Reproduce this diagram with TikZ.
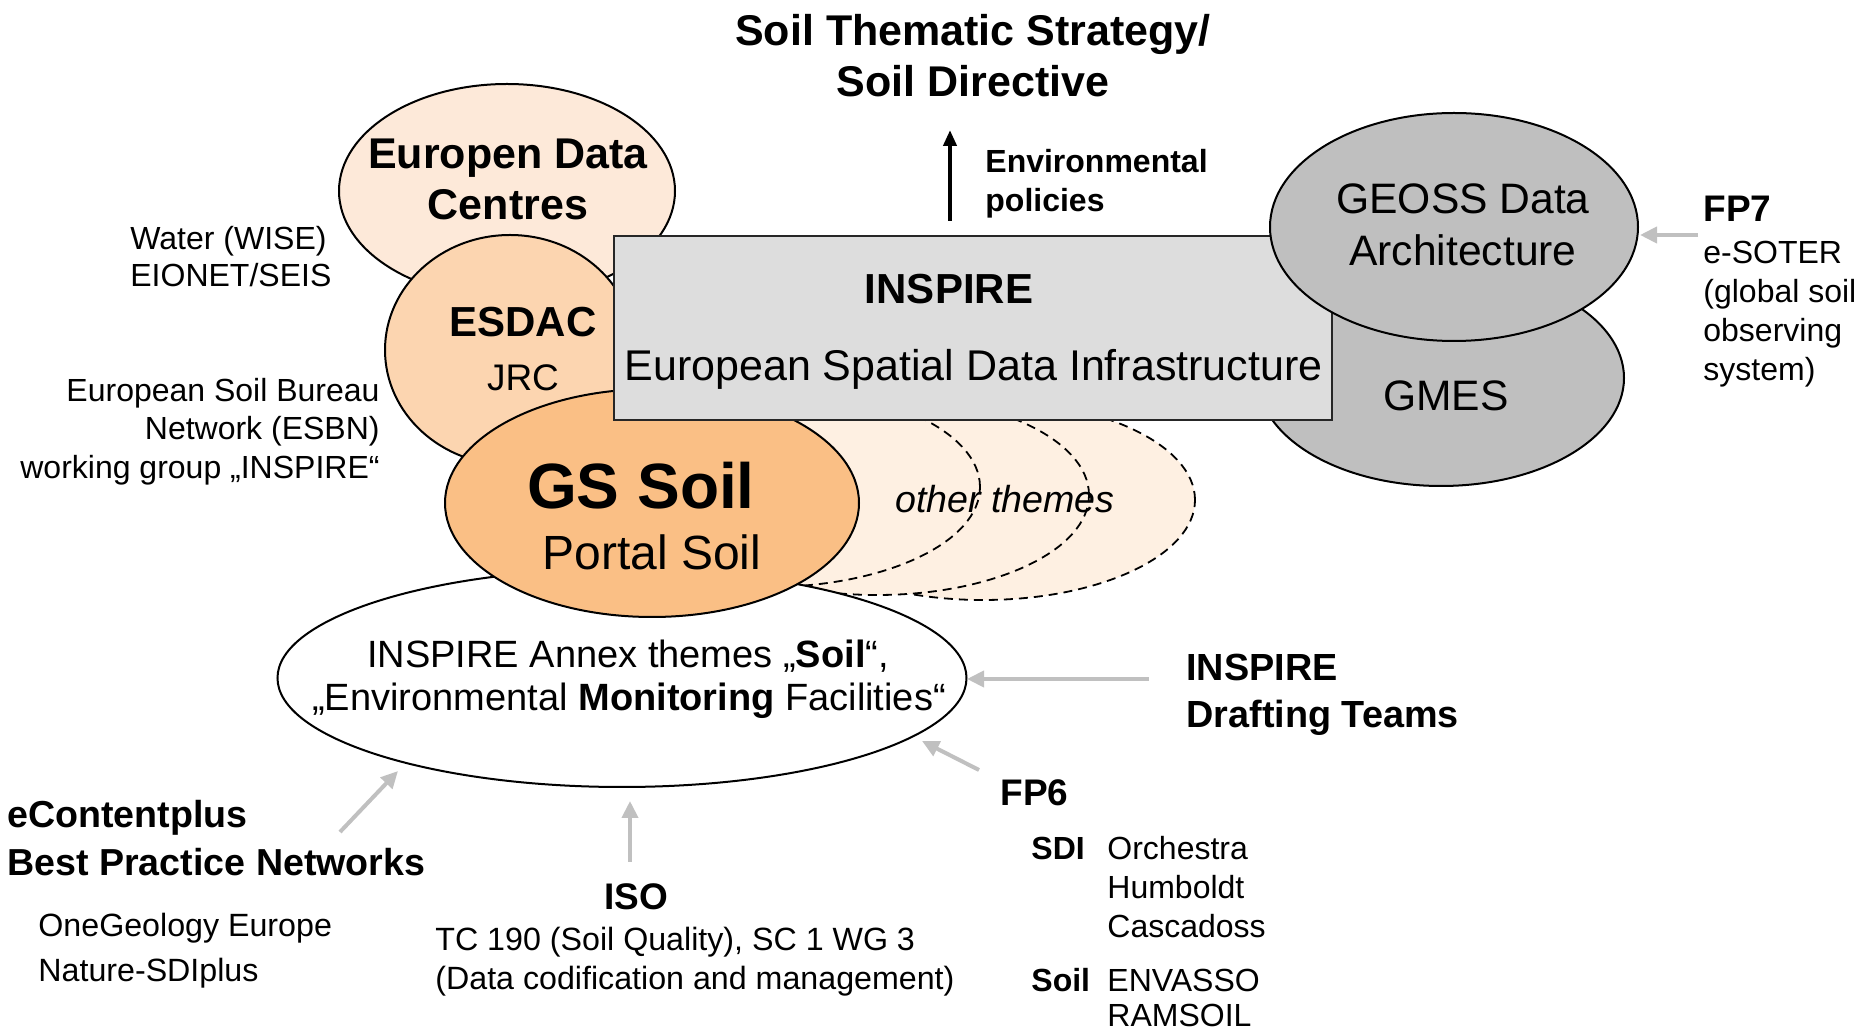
\documentclass[tikz,border=0pt]{standalone}
\usepackage{fontspec}
\setmainfont{Liberation Sans}
\usetikzlibrary{shapes.geometric,arrows.meta}
\definecolor{edcfill}{HTML}{FDE9D9}
\definecolor{esdacfill}{HTML}{FCD5B0}
\definecolor{gsfill}{HTML}{FABF85}
\definecolor{otherfill}{HTML}{FEF0E2}
\definecolor{rectfill}{HTML}{DDDDDD}
\definecolor{geossfill}{HTML}{BFBFBF}
\definecolor{arrowgray}{HTML}{C0C0C0}
\newcommand{\fsz}[1]{\fontsize{#1}{#1}\selectfont}
\begin{document}
\begin{tikzpicture}[x=0.5pt,y=-0.5pt,
  ell/.style={ellipse,draw=black,line width=1pt,inner sep=0pt},
  dashell/.style={ellipse,draw=black,line width=0.9pt,dash pattern=on 4.5pt off 3pt,fill=otherfill,inner sep=0pt},
  txt/.style={inner sep=0pt,text=black},
  garrow/.style={draw=arrowgray,line width=2pt,-{Triangle[length=8.5pt,width=8pt]}},
  barrow/.style={draw=black,line width=2pt,-{Triangle[length=8pt,width=6.5pt]}},
]
\useasboundingbox (0,0) rectangle (1876,1031);

% back shapes
\node[ell,fill=edcfill,minimum width=168pt,minimum height=107pt] (edc) at (507,191) {};
\node[ell,fill=esdacfill,minimum width=125pt,minimum height=115pt] (esdac) at (510,350) {};
\node[dashell,minimum width=212pt,minimum height=100pt] (oth3) at (983,500) {};
\node[dashell,minimum width=212pt,minimum height=100pt] (oth2) at (877,495) {};
\node[dashell,minimum width=212pt,minimum height=100pt] (oth1) at (768,487) {};
\node[ell,fill=white,minimum width=344.5pt,minimum height=109pt] (annex) at (622,678) {};
\node[ell,fill=gsfill,minimum width=207pt,minimum height=114pt] (gs) at (652,503) {};
\node[ell,fill=geossfill,minimum width=183pt,minimum height=108pt] (gmes) at (1441,378) {};
\node[draw=black!85,line width=1pt,fill=rectfill,minimum width=359pt,minimum height=92pt,inner sep=0pt] (inspire) at (973,328) {};
\node[ell,fill=geossfill,minimum width=184pt,minimum height=114pt] (geoss) at (1454,227) {};

% title
\node[txt,anchor=base,font=\fsz{21.5}\bfseries] (title1) at (973,46) {Soil Thematic Strategy/};
\node[txt,anchor=base,font=\fsz{21.5}\bfseries] (title2) at (973,97) {Soil Directive};

% environmental policies
\coordinate (envs) at (950,221);
\coordinate (envt) at (950,130);
\draw[barrow] (envs) -- (envt);
\node[txt,anchor=base west,font=\fsz{16}\bfseries] (env1) at (985,172.5) {Environmental};
\node[txt,anchor=base west,font=\fsz{16}\bfseries] (env2) at (985,211.5) {policies};

% ellipse texts
\node[txt,anchor=base,font=\fsz{21.5}\bfseries] (edc1) at (508,168.5) {Europen Data};
\node[txt,anchor=base,font=\fsz{21.5}\bfseries] (edc2) at (508,219.5) {Centres};
\node[txt,anchor=base,font=\fsz{21}\bfseries] (esdac1) at (523,336.5) {ESDAC};
\node[txt,anchor=base,font=\fsz{18.5}] (esdac2) at (523,390.5) {JRC};
\node[txt,anchor=base,font=\fsz{32}\bfseries] (gs1) at (641,508.5) {GS Soil};
\node[txt,anchor=base,font=\fsz{24}] (gs2) at (652,569.5) {Portal Soil};
\node[txt,anchor=base,font=\fsz{18.8}\itshape] (othtxt) at (1005,512.5) {other themes};
\node[txt,anchor=base,font=\fsz{21}\bfseries] (insp1) at (949,304) {INSPIRE};
\node[txt,anchor=base,font=\fsz{21.5}] (insp2) at (973.5,381) {European Spatial Data Infrastructure};
\node[txt,anchor=base,font=\fsz{21.3}] (geoss1) at (1463,213.5) {GEOSS Data};
\node[txt,anchor=base,font=\fsz{21.3}] (geoss2) at (1463,265.5) {Architecture};
\node[txt,anchor=base,font=\fsz{21.3}] (gmestxt) at (1446,410.5) {GMES};
\node[txt,anchor=base,font=\fsz{19}] (annex1) at (628,667.5) {INSPIRE Annex themes „\textbf{Soil}“,};
\node[txt,anchor=base,font=\fsz{19}] (annex2) at (629,710.5) {„Environmental \textbf{Monitoring} Facilities“};

% FP7
\node[txt,anchor=base west,font=\fsz{18.5}\bfseries] (fp7) at (1703,221.5) {FP7};
\node[txt,anchor=base west,font=\fsz{16}] (fp7a) at (1703,263.5) {e-SOTER};
\node[txt,anchor=base west,font=\fsz{16}] (fp7b) at (1703,302.5) {(global soil};
\node[txt,anchor=base west,font=\fsz{16}] (fp7c) at (1703,342) {observing};
\node[txt,anchor=base west,font=\fsz{16}] (fp7d) at (1703,381) {system)};
\coordinate (fp7s) at (1698,235);
\coordinate (fp7t) at (1640,235);
\draw[garrow] (fp7s) -- (fp7t);

% left texts
\node[txt,anchor=base west,font=\fsz{16}] (wise) at (130,249.5) {Water (WISE)};
\node[txt,anchor=base west,font=\fsz{16}] (eionet) at (130,287) {EIONET/SEIS};
\node[txt,anchor=base east,font=\fsz{16}] (esb1) at (380,401.5) {European Soil Bureau};
\node[txt,anchor=base east,font=\fsz{16}] (esb2) at (380,439.5) {Network (ESBN)};
\node[txt,anchor=base east,font=\fsz{16}] (esb3) at (380,478.5) {working group „INSPIRE“};

% Drafting teams
\node[txt,anchor=base west,font=\fsz{18.9}\bfseries] (dt1) at (1186,680.5) {INSPIRE};
\node[txt,anchor=base west,font=\fsz{18.9}\bfseries] (dt2) at (1186,727.5) {Drafting Teams};
\coordinate (dts) at (1149,679);
\coordinate (dtt) at (967,679);
\draw[garrow] (dts) -- (dtt);

% FP6
\node[txt,anchor=base west,font=\fsz{18.5}\bfseries] (fp6) at (1000,806) {FP6};
\coordinate (fp6s) at (979,770);
\coordinate (fp6t) at (922,741);
\draw[garrow] (fp6s) -- (fp6t);
\node[txt,anchor=base west,font=\fsz{16}\bfseries] (sdi) at (1031,859.5) {SDI};
\node[txt,anchor=base west,font=\fsz{16}] (orch) at (1107,859.5) {Orchestra};
\node[txt,anchor=base west,font=\fsz{16}] (humb) at (1107,899) {Humboldt};
\node[txt,anchor=base west,font=\fsz{16}] (casc) at (1107,937.5) {Cascadoss};
\node[txt,anchor=base west,font=\fsz{16}\bfseries] (soillab) at (1031,991.5) {Soil};
\node[txt,anchor=base west,font=\fsz{16}] (envasso) at (1107,991.5) {ENVASSO};
\node[txt,anchor=base west,font=\fsz{16}] (ramsoil) at (1107,1026.5) {RAMSOIL};

% eContentplus
\node[txt,anchor=base west,font=\fsz{18.8}\bfseries] (ecp1) at (7,827.5) {eContentplus};
\node[txt,anchor=base west,font=\fsz{18.8}\bfseries] (ecp2) at (7,875.5) {Best Practice Networks};
\node[txt,anchor=base west,font=\fsz{16.1}] (oneg) at (38,936.5) {OneGeology Europe};
\node[txt,anchor=base west,font=\fsz{16.1}] (nat) at (38,981.5) {Nature-SDIplus};
\coordinate (ecps) at (340,832);
\coordinate (ecpt) at (398,771);
\draw[garrow] (ecps) -- (ecpt);

% ISO
\node[txt,anchor=base,font=\fsz{18.5}\bfseries] (iso) at (636.5,909.5) {ISO};
\node[txt,anchor=base west,font=\fsz{16.1}] (tc1) at (435,950.5) {TC 190 (Soil Quality), SC 1 WG 3};
\node[txt,anchor=base west,font=\fsz{16.1}] (tc2) at (435,989.5) {(Data codification and management)};
\coordinate (isos) at (630,862);
\coordinate (isot) at (630,801);
\draw[garrow] (isos) -- (isot);
\end{tikzpicture}
\end{document}
